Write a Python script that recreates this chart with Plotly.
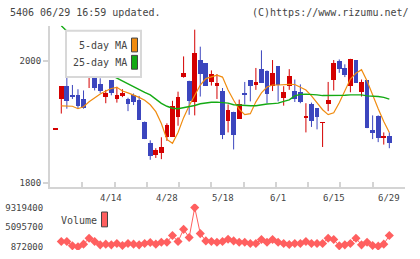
import plotly.graph_objects as go

# ---------------- data ----------------
idx = list(range(-1, 60))
opens = [1889, 1939, 1959, 1945, 1945, 1938, 1976, 1983, 1963, 1942, 1969,
         1939, 1943, 1938, 1945, 1937, 1901, 1866, 1847, 1849, 1876,
         1876, 1909, 1975, 1968, 1934, 2002, 1997, 1966, 1960, 1951,
         1903, 1917, 1906, 1948, 1969, 1963, 1987, 1985, 1960, 1992,
         1940, 1959, 1951, 1950, 1908, 1930, 1923, 1900, 1930, 1969,
         2001, 1989, 1960, 2002, 1950, 1969, 1888, 1911, 1876, 1877]
highs = [1889, 1959, 1982, 1961, 1954, 1952, 1992, 1984, 1972, 1953, 1969,
         1958, 1954, 1940, 1947, 1943, 1901, 1870, 1857, 1875, 1898,
         1935, 1950, 2008, 1968, 2052, 2024, 1997, 1985, 1979, 1956,
         1929, 1917, 1937, 1966, 1969, 1989, 2018, 1985, 2002, 1992,
         1959, 1987, 1970, 1962, 1931, 1932, 1923, 1900, 1966, 2002,
         2003, 1995, 2004, 2002, 1970, 1969, 1911, 1911, 1883, 1883]
lows = [1889, 1914, 1922, 1938, 1922, 1922, 1956, 1952, 1948, 1931, 1944,
        1932, 1941, 1918, 1928, 1904, 1872, 1838, 1841, 1839, 1869,
        1876, 1894, 1973, 1912, 1911, 1942, 1960, 1960, 1938, 1872,
        1883, 1855, 1906, 1929, 1934, 1953, 1965, 1931, 1951, 1934,
        1927, 1953, 1933, 1931, 1883, 1892, 1888, 1859, 1918, 1952,
        1981, 1974, 1949, 1965, 1942, 1890, 1872, 1867, 1863, 1857]
closes = [1889, 1959, 1935, 1941, 1927, 1923, 1980, 1956, 1951, 1948, 1948,
          1945, 1948, 1931, 1933, 1904, 1873, 1844, 1854, 1860, 1896,
          1927, 1941, 1981, 1935, 2014, 1979, 1960, 1979, 1964, 1880,
          1920, 1880, 1930, 1945, 1960, 1966, 1965, 1946, 1981, 1961,
          1950, 1976, 1939, 1934, 1909, 1903, 1909, 1900, 1937, 1997,
          1988, 1978, 2004, 1965, 1966, 1890, 1882, 1874, 1876, 1866]

ma_idx = list(range(0, 60))
ma5 = [1926.8, 1926.8, 1926.0, 1922.0, 1925.2, 1933.3, 1939.8, 1946.3, 1951.2, 1955.3,
       1957.2, 1951.2, 1948.0, 1944.7, 1940.6, 1935.8, 1928.5, 1917.1, 1897.6, 1871.5,
       1865.0, 1882.9, 1907.3, 1926.8, 1944.7, 1961.0, 1971.5, 1974.8, 1977.2, 1974.0,
       1952.8, 1935.8, 1921.1, 1912.2, 1913.8, 1933.3, 1948.0, 1957.7, 1961.0, 1961.0,
       1962.1, 1962.1, 1961.8, 1956.9, 1952.8, 1943.1, 1931.7, 1920.3, 1912.2, 1915.4,
       1931.7, 1951.2, 1970.7, 1980.5, 1986.2, 1967.5, 1943.1, 1922.0, 1900.8, 1882.9]
ma25 = [2058.5, 2050.4, 2040.7, 2030.9, 2021.1, 2011.4, 2001.6, 1991.9, 1983.7, 1977.2,
        1972.4, 1967.5, 1962.6, 1957.7, 1952.8, 1948.8, 1944.7, 1937.4, 1930.9, 1926.0,
        1922.8, 1922.0, 1923.6, 1925.7, 1927.3, 1930.1, 1931.7, 1932.5, 1932.8, 1932.5,
        1931.2, 1928.5, 1927.6, 1927.2, 1926.8, 1926.8, 1928.5, 1929.8, 1930.4, 1931.2,
        1934.1, 1936.6, 1943.1, 1945.5, 1945.9, 1945.9, 1944.7, 1943.6, 1943.6, 1943.1,
        1943.1, 1944.2, 1944.7, 1944.7, 1944.7, 1943.1, 1943.1, 1942.0, 1940.7, 1937.7]

volumes = [2021000, 2021000, 1085000, 872000, 1446500, 2723000, 2021000, 1297600, 1446500, 1297600,
           1595500, 1170000, 1595500, 1446500, 1297600, 1595500, 1808000, 1446500, 1872000, 1872000,
           3297700, 2021000, 4638000, 2872000, 9319400, 3723000, 2148700, 2021000, 1872000, 2021000,
           2510400, 2148700, 1872000, 1872000, 1595500, 1595500, 2446600, 1872000, 2446600, 1872000,
           1595500, 1382700, 1595500, 1595500, 2021000, 1595500, 1595500, 1595500, 2723000, 2446600,
           1085000, 1297600, 1595500, 2723000, 1297600, 1872000, 1170000, 1021000, 1446500, 3297700]

date_idx = [9, 19, 29, 39, 49, 59]
date_labels = ["4/14", "4/28", "5/18", "6/1", "6/15", "6/29"]
price_ticks = [1800, 2000]
vol_ticks = [872000, 5095700, 9319400]

# ---------------- styles ----------------
UP = "#d40000"
DOWN = "#3c46be"
ORANGE = "#f08c10"
GREEN = "#14aa14"
VOLC = "#ff5f5f"
AXC = "#d4d4d4"
TXT = "#444444"
FONT = "DejaVu Sans Mono"

fig = go.Figure()

# wicks
for color, up in ((UP, True), (DOWN, False)):
    wx, wy = [], []
    for i, o, h, l, c in zip(idx, opens, highs, lows, closes):
        if (c >= o) == up:
            wx += [i, i, None]
            wy += [l, h, None]
    fig.add_trace(go.Scatter(x=wx, y=wy, mode="lines", line=dict(color=color, width=1),
                             hoverinfo="skip", showlegend=False))

# bodies
min_h = 0.7
for color, up in ((UP, True), (DOWN, False)):
    bx, bb, bh = [], [], []
    for i, o, c in zip(idx, opens, closes):
        if (c >= o) == up:
            lo = min(o, c)
            hgt = abs(c - o)
            if hgt < min_h:
                lo = lo - min_h / 2
                hgt = min_h
            bx.append(i)
            bb.append(lo)
            bh.append(hgt)
    fig.add_trace(go.Bar(x=bx, y=bh, base=bb, width=0.85, marker=dict(color=color, line=dict(width=0)),
                         showlegend=False, hoverinfo="skip"))

fig.add_trace(go.Scatter(x=ma_idx, y=ma5, mode="lines", line=dict(color=ORANGE, width=1.2),
                         showlegend=False, hoverinfo="skip"))
fig.add_trace(go.Scatter(x=ma_idx, y=ma25, mode="lines", line=dict(color=GREEN, width=1.4),
                         showlegend=False, hoverinfo="skip"))

# volume
fig.add_trace(go.Scatter(x=ma_idx, y=volumes, mode="lines+markers", xaxis="x", yaxis="y2",
                         line=dict(color=VOLC, width=1),
                         marker=dict(symbol="diamond", size=7, color=VOLC, line=dict(width=0)),
                         showlegend=False, hoverinfo="skip"))

W, H = 420, 259
x0px, x1px = 50, 405
xr0, xr1 = -2.03, 61.82
span = xr1 - xr0

def py(px):
    return (H - px) / H

fig.update_layout(
    width=W, height=H, margin=dict(l=0, r=0, t=0, b=0),
    paper_bgcolor="white", plot_bgcolor="rgba(0,0,0,0)",
    barmode="overlay", bargap=0, showlegend=False,
    font=dict(family=FONT, size=9, color=TXT),
    xaxis=dict(domain=[x0px / W, x1px / W], range=[xr0, xr1], showgrid=False, zeroline=False,
               showline=True, linecolor=AXC, linewidth=2, ticks="inside", ticklen=5, tickwidth=2,
               tickcolor=AXC, tickmode="linear", tick0=xr0, dtick=span / 11, showticklabels=False,
               anchor="y"),
    yaxis=dict(domain=[py(188), py(25)], range=[1793.5, 2058.5], showgrid=False, zeroline=False,
               showline=True, linecolor=AXC, linewidth=2, ticks="outside", ticklen=5, tickwidth=2,
               tickcolor=AXC, tickvals=price_ticks, ticktext=[str(v) for v in price_ticks],
               tickfont=dict(family=FONT, size=9, color=TXT)),
    yaxis2=dict(domain=[py(252), py(205)], range=[169800, 10170500], showgrid=False, zeroline=False,
                showline=False, ticks="outside", ticklen=4, tickcolor="rgba(0,0,0,0)",
                tickvals=vol_ticks, ticktext=[str(v) for v in vol_ticks],
                tickfont=dict(family=FONT, size=9, color=TXT), anchor="x"),
)

# date labels
for di, lab in zip(date_idx, date_labels):
    fig.add_annotation(x=di, y=py(199), xref="x", yref="paper", text=lab, showarrow=False,
                       font=dict(family=FONT, size=9, color=TXT), xanchor="center", yanchor="middle")

# header
fig.add_annotation(x=8 / W, y=py(12), xref="paper", yref="paper", text="5406 06/29 16:59 updated.",
                   showarrow=False, xanchor="left", yanchor="middle", font=dict(family=FONT, size=10, color=TXT))
fig.add_annotation(x=411 / W, y=py(12), xref="paper", yref="paper", text="(C)https://www.rizumu.net/",
                   showarrow=False, xanchor="right", yanchor="middle", font=dict(family=FONT, size=10, color=TXT))

# legend box (price)
fig.add_shape(type="rect", xref="paper", yref="paper", x0=66 / W, x1=141 / W, y0=py(77), y1=py(30),
              fillcolor="white", line=dict(color="#d8d8d8", width=2), layer="above")
fig.add_annotation(x=129 / W, y=py(45), xref="paper", yref="paper", text="5-day MA", showarrow=False,
                   xanchor="right", yanchor="middle", font=dict(family=FONT, size=10, color=TXT))
fig.add_annotation(x=129 / W, y=py(62), xref="paper", yref="paper", text="25-day MA", showarrow=False,
                   xanchor="right", yanchor="middle", font=dict(family=FONT, size=10, color=TXT))
fig.add_shape(type="rect", xref="paper", yref="paper", x0=131.5 / W, x1=137.5 / W, y0=py(51.5), y1=py(37.5),
              fillcolor=ORANGE, line=dict(color="#444444", width=1), layer="above")
fig.add_shape(type="rect", xref="paper", yref="paper", x0=131.5 / W, x1=137.5 / W, y0=py(69), y1=py(55),
              fillcolor=GREEN, line=dict(color="#444444", width=1), layer="above")

# volume legend
fig.add_annotation(x=59 / W, y=py(222), xref="paper", yref="paper", text="Volume", showarrow=False,
                   xanchor="left", yanchor="middle", font=dict(family=FONT, size=10, color=TXT))
fig.add_shape(type="rect", xref="paper", yref="paper", x0=101.5 / W, x1=107.5 / W, y0=py(228.5), y1=py(213.5),
              fillcolor=VOLC, line=dict(color="#444444", width=1), layer="above")

fig.write_html("out.html")
